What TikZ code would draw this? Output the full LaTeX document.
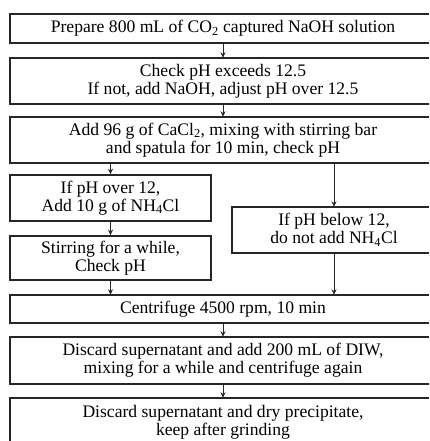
\documentclass[tikz,border=0pt]{standalone}
\usepackage{fontspec}
\setmainfont{Liberation Serif}
\usetikzlibrary{arrows.meta}
\begin{document}
\begin{tikzpicture}[x=1pt,y=1pt,
  box/.style={rectangle, inner sep=0pt, align=center, font=\fontsize{17.6}{18}\selectfont},
  frame/.style={draw=black!85, line width=1.7pt, line join=miter},
  arr/.style={draw=black!85, line width=0.9pt, -{Stealth[length=5.5pt,width=5pt]}}]
\fill[white] (0,0) rectangle (429,-441);
\useasboundingbox (0,0) rectangle (429,-441);
\coordinate (R) at (429,0);
\coordinate (BOT) at (0,-441);
\node[box, minimum width=426pt, minimum height=29pt] (b1) at (223,-28.5)
  {Prepare 800 mL of CO\textsubscript{2} captured NaOH solution};
\node[box, minimum width=426pt, minimum height=46pt] (b2) at (223,-81)
  {Check pH exceeds 12.5\\If not, add NaOH, adjust pH over 12.5};
\node[box, minimum width=426pt, minimum height=46pt] (b3) at (223,-140)
  {Add 96 g of CaCl\textsubscript{2}, mixing with stirring bar\\and spatula for 10 min, check pH};
\node[box, draw=black!85, line width=1.7pt, minimum width=201pt, minimum height=46pt] (bA) at (110.5,-198)
  {If pH over 12,\\Add 10 g of NH\textsubscript{4}Cl};
\node[box, draw=black!85, line width=1.7pt, minimum width=201pt, minimum height=44pt] (bB) at (110.5,-258)
  {Stirring for a while,\\Check pH};
\node[box, minimum width=204pt, minimum height=46pt] (bC) at (334,-230)
  {If pH below 12,\\do not add NH\textsubscript{4}Cl};
\node[box, minimum width=426pt, minimum height=28pt] (b4) at (223,-309)
  {Centrifuge 4500 rpm, 10 min};
\node[box, minimum width=426pt, minimum height=47pt] (b5) at (223,-360.5)
  {Discard supernatant and add 200 mL of DIW,\\mixing for a while and centrifuge again};
\node[box, minimum width=426pt, minimum height=48pt] (b6) at (223,-422)
  {Discard supernatant and dry precipitate,\\keep after grinding};
\foreach \b in {b1,b2,b3,bC,b4,b5}
  \draw[frame] (\b.north west -| R) -- (\b.north west) -- (\b.south west) -- (\b.south west -| R);
\draw[frame] (b6.north west -| R) -- (b6.north west) -- (b6.north west |- BOT);
\draw[arr] (b1.south) -- (b2.north);
\draw[arr] (b2.south) -- (b3.north);
\draw[arr] (b3.south -| bA.north) -- (bA.north);
\draw[arr] (b3.south -| bC.north) -- (bC.north);
\draw[arr] (bA.south) -- (bB.north);
\draw[arr] (bB.south) -- (bB.south |- b4.north);
\draw[arr] (bC.south) -- (bC.south |- b4.north);
\draw[arr] (b4.south) -- (b5.north);
\draw[arr] (b5.south) -- (b6.north);
\end{tikzpicture}
\end{document}
